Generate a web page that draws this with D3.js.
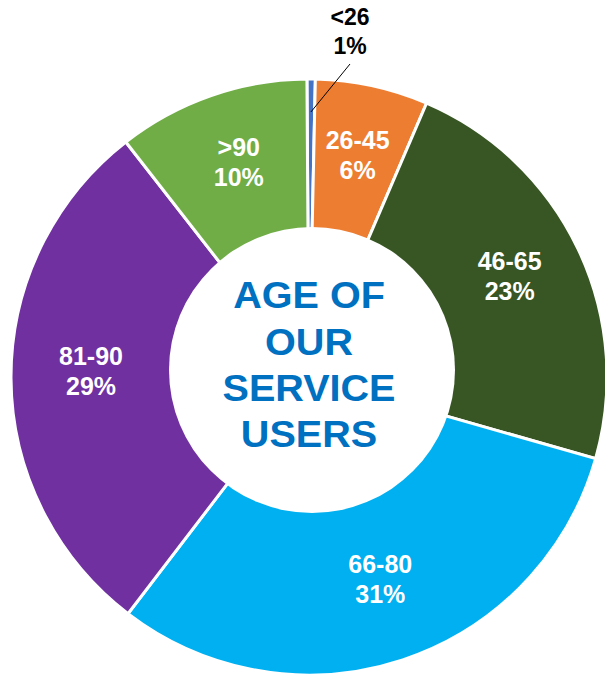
<!DOCTYPE html>
<html>
<head>
<meta charset="utf-8">
<script src="https://cdn.jsdelivr.net/npm/d3@7"></script>
<style>
  html, body { margin: 0; padding: 0; background: #ffffff; }
  svg { display: block; }
</style>
</head>
<body>
<svg id="chart" width="605" height="679"></svg>
<script>
// ---- data ----
const categories = ["<26", "26-45", "46-65", "66-80", "81-90", ">90"];
const shares     = [0.45, 6.1, 22.9, 30.9, 29.0, 10.4];
const pctLabels  = ["1%", "6%", "23%", "31%", "29%", "10%"];
const colors     = ["#4472C4", "#ED7D31", "#375623", "#00B0F0", "#7030A0", "#70AD47"];
const centerTitle = ["AGE OF", "OUR", "SERVICE", "USERS"];

// ---- layout ----
const W = 605, H = 679;
const cx = 309, cy = 377;
const outerR = 298, innerR = 132;
const holeCx = 312, holeCy = 370, holeR = 143;
const labelR = 220;
const font = "'Liberation Sans', Arial, Helvetica, sans-serif";

const svg = d3.select("#chart");
const g = svg.append("g").attr("transform", `translate(${cx},${cy})`);

const rad = d => d * Math.PI / 180;
const pie = d3.pie().sort(null).value(d => d.v)
  .startAngle(rad(-0.4)).endAngle(rad(-0.4) + 2 * Math.PI);
const data = categories.map((c, i) => ({ c, v: shares[i], p: pctLabels[i], col: colors[i] }));
const arcs = pie(data);

const arc = d3.arc().innerRadius(innerR).outerRadius(outerR);

g.selectAll("path.slice")
  .data(arcs)
  .join("path")
  .attr("class", "slice")
  .attr("d", arc)
  .attr("fill", d => d.data.col)
  .attr("stroke", "#ffffff")
  .attr("stroke-width", 3)
  .attr("stroke-linejoin", "miter");

// white centre disc (title shape)
svg.append("circle")
  .attr("cx", holeCx).attr("cy", holeCy).attr("r", holeR)
  .attr("fill", "#ffffff");

// centre title
const tg = svg.append("g")
  .attr("transform", `translate(309,0) scale(1.07,1)`);
const titleY = d3.scalePoint().domain(d3.range(centerTitle.length)).range([295, 434]);
tg.selectAll("text.title")
  .data(centerTitle)
  .join("text")
  .attr("class", "title")
  .attr("x", 0)
  .attr("y", (d, i) => titleY(i))
  .attr("dy", "0.36em")
  .attr("text-anchor", "middle")
  .attr("font-family", font)
  .attr("font-weight", "bold")
  .attr("font-size", 37)
  .attr("fill", "#0070C0")
  .text(d => d);

// slice labels
const labelArc = d3.arc().innerRadius(labelR).outerRadius(labelR);
const inside = arcs.filter(d => d.data.c !== "<26");
const lg = svg.append("g")
  .attr("transform", `translate(${holeCx - 1},${holeCy})`)
  .selectAll("g.lab")
  .data(inside)
  .join("g")
  .attr("class", "lab")
  .attr("transform", d => { const [x, y] = labelArc.centroid(d); return `translate(${x},${y})`; });
lg.append("text")
  .attr("y", -15).attr("dy", "0.36em")
  .attr("text-anchor", "middle")
  .attr("font-family", font).attr("font-weight", "bold").attr("font-size", 25)
  .attr("fill", "#ffffff")
  .text(d => d.data.c);
lg.append("text")
  .attr("y", 15).attr("dy", "0.36em")
  .attr("text-anchor", "middle")
  .attr("font-family", font).attr("font-weight", "bold").attr("font-size", 25)
  .attr("fill", "#ffffff")
  .text(d => d.data.p);

// outside label for the tiny slice with a leader line
const small = arcs.find(d => d.data.c === "<26");
const mid = (small.startAngle + small.endAngle) / 2;
const lx = 41, ly = -outerR - 48;
const end = [Math.sin(mid) * (outerR - 33), -Math.cos(mid) * (outerR - 33)];
g.append("line")
  .attr("x1", lx).attr("y1", ly + 33)
  .attr("x2", end[0]).attr("y2", end[1])
  .attr("stroke", "#000000").attr("stroke-width", 1);
g.append("text")
  .attr("x", lx).attr("y", ly - 14).attr("dy", "0.36em")
  .attr("text-anchor", "middle")
  .attr("font-family", font).attr("font-weight", "bold").attr("font-size", 23)
  .attr("fill", "#000000")
  .text(small.data.c);
g.append("text")
  .attr("x", lx).attr("y", ly + 15).attr("dy", "0.36em")
  .attr("text-anchor", "middle")
  .attr("font-family", font).attr("font-weight", "bold").attr("font-size", 23)
  .attr("fill", "#000000")
  .text(small.data.p);
</script>
</body>
</html>
